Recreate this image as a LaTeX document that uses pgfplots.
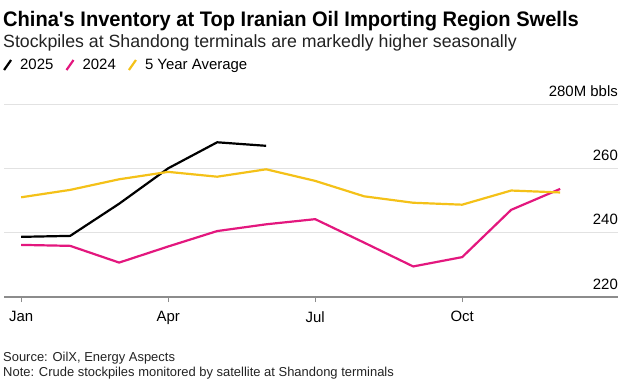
\documentclass[border=0pt]{standalone}
\usepackage{fontspec}
\setmainfont{Liberation Sans}
\newfontfamily\titlefont[FakeStretch=0.955]{Liberation Sans}
\newfontfamily\narrowfont{Liberation Sans}
\usepackage{pgfplots}
\pgfplotsset{compat=1.18}
\definecolor{c25}{HTML}{000000}
\definecolor{c24}{HTML}{E3177E}
\definecolor{cavg}{HTML}{F4C118}
\definecolor{gridc}{HTML}{E2E2E2}
\definecolor{axisc}{HTML}{8C8C8C}
\definecolor{subc}{HTML}{222222}

\pgfplotstableread{
x y
0 238.7
1 239.0
2 249.0
3 260.0
4 268.1
5 267.0
}\tblA
\pgfplotstableread{
x y
0 236.2
1 235.9
2 230.7
3 235.7
4 240.5
5 242.6
6 244.2
7 236.9
8 229.5
9 232.4
10 247.1
11 253.6
}\tblB
\pgfplotstableread{
x y
0 251.0
1 253.3
2 256.6
3 258.9
4 257.4
5 259.7
6 256.1
7 251.3
8 249.3
9 248.7
10 253.1
11 252.5
}\tblC

\begin{document}
\begin{tikzpicture}[x=1bp,y=1bp]
\path[use as bounding box] (0,0) rectangle (625,386);
\node[anchor=base west, inner sep=0, font=\titlefont\bfseries\fontsize{21.1}{25}\selectfont] at (3,386-26) {China's Inventory at Top Iranian Oil Importing Region Swells};
\node[anchor=base west, inner sep=0, text=subc, font=\narrowfont\fontsize{17.8}{20}\selectfont] at (3,386-47) {Stockpiles at Shandong terminals are markedly higher seasonally};
\node[anchor=base west, inner sep=0, text=subc, font=\narrowfont\fontsize{13}{15}\selectfont, align=left] at (3,386-361) {Source: OilX, Energy Aspects};
\node[anchor=base west, inner sep=0, text=subc, font=\narrowfont\fontsize{13}{15}\selectfont, align=left] at (3,386-376) {Note: Crude stockpiles monitored by satellite at Shandong terminals};
\begin{axis}[
  at={(4bp,89bp)}, anchor=south west,
  scale only axis, width=614bp, height=193bp,
  xmin=-0.35, xmax=12.18, ymin=220, ymax=280,
  axis x line*=bottom, axis y line*=right,
  x axis line style={draw=axisc, line width=1.5bp, -},
  y axis line style={draw=none},
  xtick={0,3,6,9}, xticklabels={Jan,Apr,Jul,Oct},
  xtick align=outside, major tick length=5bp,
  xtick style={draw=axisc, line width=1bp},
  ytick={220,240,260,280}, yticklabels={220,240,260,280M bbls},
  ytick style={draw=none},
  yticklabel pos=right,
  yticklabel style={anchor=south east, inner sep=0pt, xshift=0bp, yshift=7.5bp, font=\narrowfont\fontsize{15}{17}\selectfont},
  xticklabel style={font=\narrowfont\fontsize{15}{17}\selectfont, yshift=-6bp},
  ymajorgrids, grid style={draw=gridc, line width=1bp},
  legend style={at={(axis description cs:-0.002,1.202)}, anchor=west, draw=none, fill=none, inner sep=0pt,
    font=\narrowfont\fontsize{15}{17}\selectfont, column sep=6bp, /tikz/every even column/.append style={column sep=10bp}},
  legend columns=3,
  legend image code/.code={\draw[#1, line width=2.2bp] (0bp,-5bp) -- (7bp,5bp);},
  line join=round,
]
\addplot[c25, line width=2.2bp] table {\tblA};
\addlegendentry{2025}
\addplot[c24, line width=2.2bp] table {\tblB};
\addlegendentry{2024}
\addplot[cavg, line width=2.2bp] table {\tblC};
\addlegendentry{5 Year Average}
\end{axis}
\end{tikzpicture}
\end{document}
